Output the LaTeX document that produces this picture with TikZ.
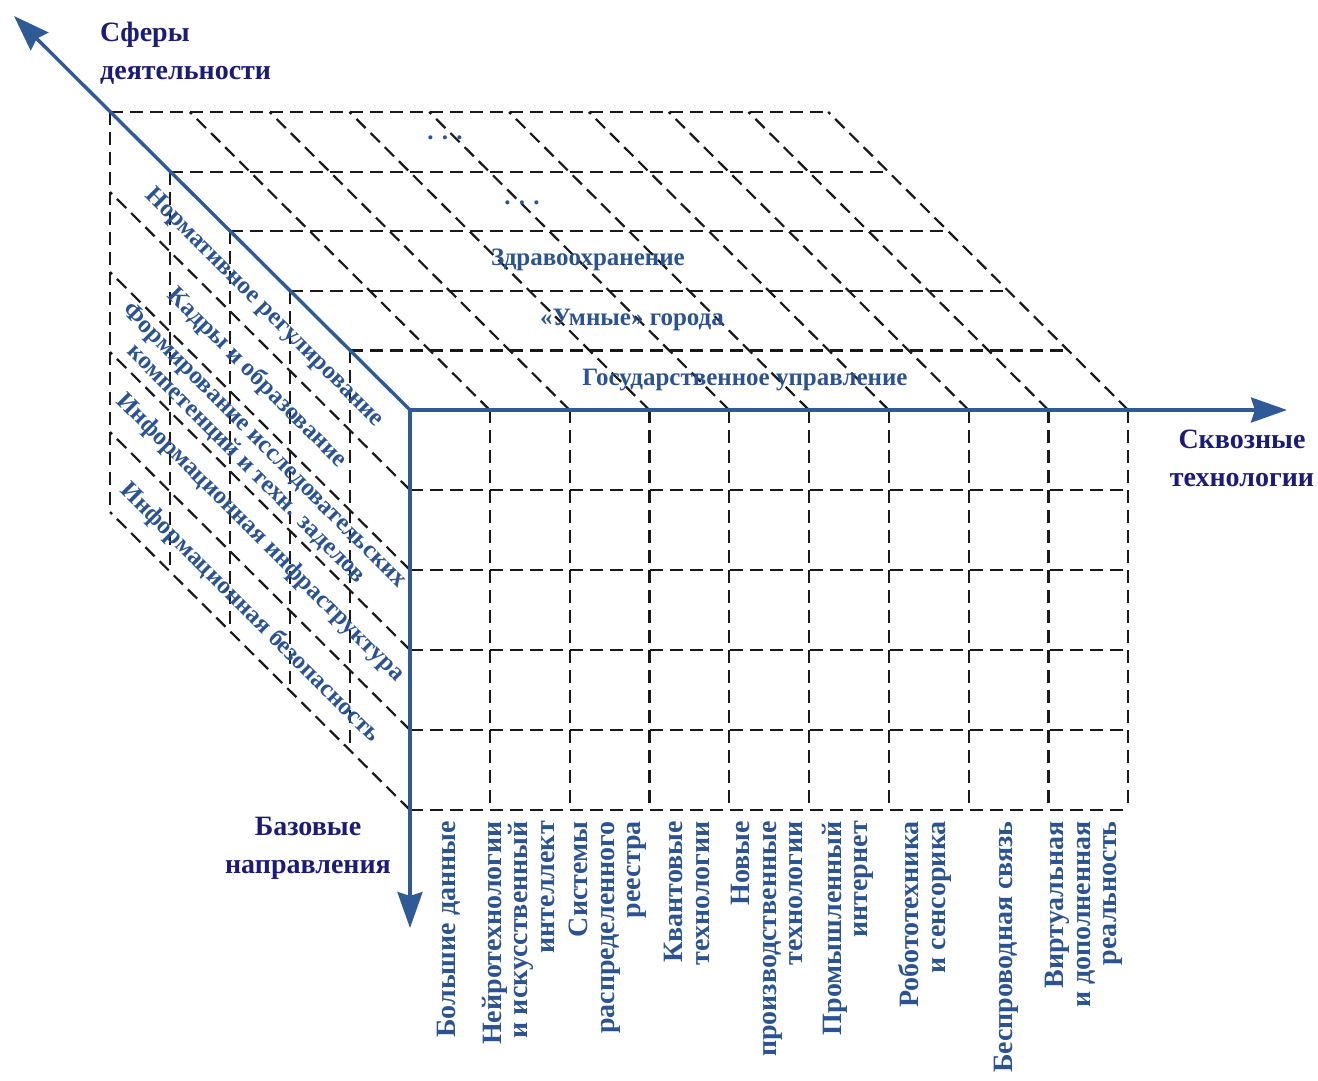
\documentclass[tikz,border=0pt]{standalone}
\usepackage{fontspec}
\setmainfont{Liberation Serif}
\usetikzlibrary{arrows.meta}
\definecolor{axisblue}{RGB}{47,90,150}
\definecolor{navyblue}{RGB}{28,28,120}
\definecolor{labelblue}{RGB}{43,83,145}

\begin{document}
\begin{tikzpicture}[x=1pt, y=-1pt,
    gridline/.style={draw=black!90, line width=2.2pt, dash pattern=on 13pt off 7pt},
    axisline/.style={draw=axisblue, line width=3.4pt, line cap=round, -{Stealth[length=36pt, width=25pt, inset=4pt]}},
    axisname/.style={text=navyblue, font=\fontsize{28}{38}\selectfont\bfseries, align=center, inner sep=0pt},
    cellname/.style={text=labelblue, font=\fontsize{25}{26}\selectfont\bfseries, inner sep=0pt, align=center},
    techname/.style={cellname, font=\fontsize{28}{26.5}\selectfont\bfseries, rotate=90, anchor=east, align=right}
]
    \useasboundingbox (0,0) rectangle (1318,1080);

    \foreach \d in {1,...,5} {
        \draw[gridline] ({410-60*\d},{410-59.6*\d}) -- ++(718,0);
        \draw[gridline] ({410-60*\d},{410-59.6*\d}) -- ++(0,400);
    }
    \foreach \k in {1,...,9} {
        \draw[gridline] ({410+79.8*\k},410) -- ++(-300,-298);
        \draw[gridline] ({410+79.8*\k},410) -- ++(0,400);
    }
    \foreach \j in {1,...,5} {
        \draw[gridline] (410,{410+80*\j}) -- ++(-300,-298);
        \draw[gridline] (410,{410+80*\j}) -- ++(718,0);
    }

    \coordinate (origin) at (410,410);
    \coordinate (techend) at (1287,410);
    \coordinate (baseend) at (410,928);
    \coordinate (sphereend) at (14,16);
    \draw[axisline] (origin) -- (techend);
    \draw[axisline] (origin) -- (baseend);
    \draw[axisline] (origin) -- (sphereend);

    \node[axisname, align=left, anchor=west] (spheres) at (100,53) {Сферы\\деятельности};
    \node[axisname] (techs) at (1242,458) {Сквозные\\технологии};
    \node[axisname] (bases) at (308,848) {Базовые\\направления};

    \node[cellname] (gov) at (745,380) {Государственное управление};
    \node[cellname] (city) at (632,320) {«Умные» города};
    \node[cellname] (health) at (588,260) {Здравоохранение};
    \node[cellname] (more1) at (522,203) {. . .};
    \node[cellname] (more2) at (445,138) {. . .};

    \node[cellname, rotate=-45] (norm) at (264,308) {Нормативное регулирование};
    \node[cellname, rotate=-45] (staff) at (257,378) {Кадры и образование};
    \node[cellname, rotate=-45] (research) at (255,455) {Формирование исследовательских\\компетенций и техн. заделов};
    \node[cellname, rotate=-45] (infra) at (260,538) {Информационная инфраструктура};
    \node[cellname, rotate=-45] (security) at (250,613) {Информационная безопасность};

    \foreach \cx/\txt [count=\i] in {
        449/{Большие данные},
        518/{Нейротехнологии\\и искусственный\\интеллект},
        608/{Системы\\распределенного\\реестра},
        687/{Квантовые\\технологии},
        767/{Новые\\производственные\\технологии},
        848/{Промышленный\\интернет},
        925/{Робототехника\\и сенсорика},
        1006/{Беспроводная связь},
        1084/{Виртуальная\\и дополненная\\реальность}} {
        \node[techname] (tech\i) at (\cx,821) {\txt};
    }
\end{tikzpicture}
\end{document}
